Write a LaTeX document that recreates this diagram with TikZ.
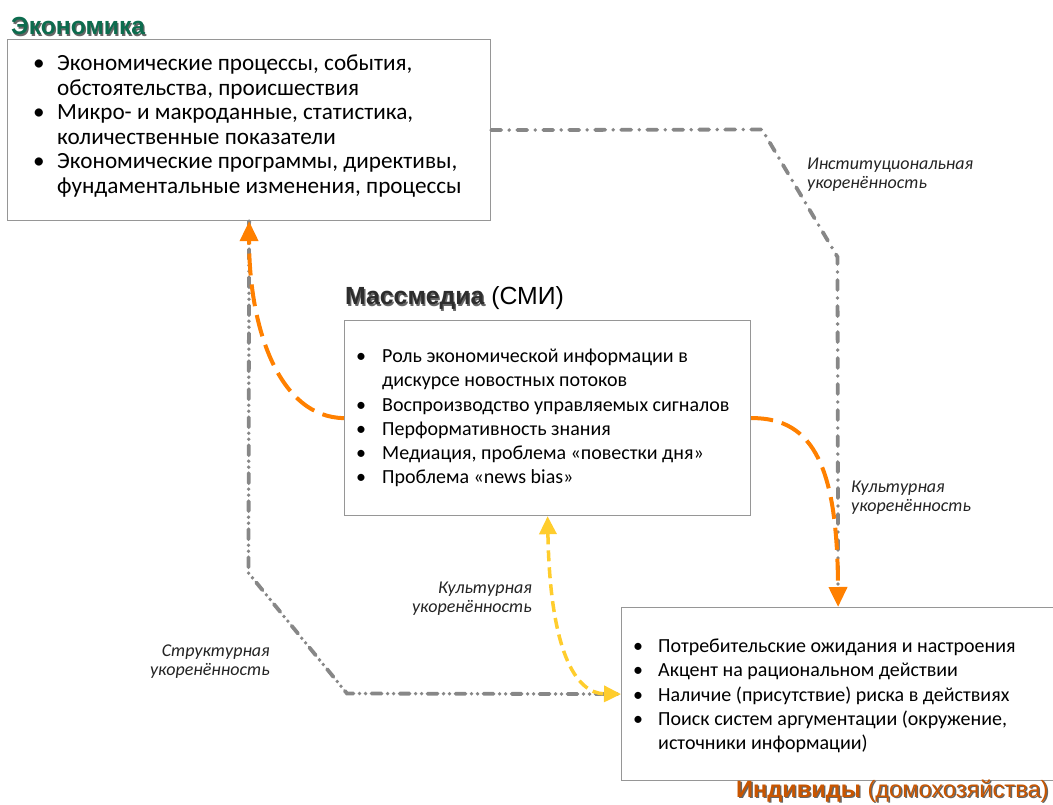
\documentclass[tikz,border=0pt]{standalone}
\usepackage{fontspec}
\setmainfont{Carlito}
\newfontfamily\arialf{Liberation Sans}
\usetikzlibrary{arrows.meta}
\definecolor{econgreen}{RGB}{12,108,78}
\definecolor{mediagray}{RGB}{45,45,45}
\definecolor{indivbrown}{RGB}{200,85,0}
\definecolor{arrorange}{RGB}{255,128,0}
\definecolor{arryellow}{RGB}{255,205,45}
\definecolor{linegray}{RGB}{135,135,135}
\definecolor{boxgray}{RGB}{150,150,150}
\definecolor{labelgray}{RGB}{35,35,35}
\newcommand\shadowed[2]{\rlap{\hspace{1.3pt}\raisebox{-1.3pt}{\textcolor{black!60}{#2}}}\textcolor{#1}{#2}}
\newcommand\bul[1]{\leavevmode\llap{\makebox[#1pt][l]{\textbullet}}}
\begin{document}
\begin{tikzpicture}[x=1pt,y=1pt,
  box/.style={draw=boxgray, line width=1.2pt, fill=white, inner sep=0, anchor=north west},
  txt/.style={anchor=base west, inner sep=0},
  lbl/.style={inner sep=0, text=labelgray},
  title/.style={anchor=base west, inner sep=0},
  instline/.style={draw=linegray, line width=3.8pt, line cap=round, dash pattern=on 10pt off 8pt on 0pt off 8pt},
  structline/.style={draw=linegray, line width=3.8pt, line cap=round, dash pattern=on 10pt off 6pt on 0pt off 6pt on 0pt off 6pt},
  orangearr/.style={draw=arrorange, line width=4pt, dash pattern=on 22pt off 9pt, -{Triangle[length=20pt,width=18pt]}},
  yellowarr/.style={draw=arryellow, line width=3.5pt, dash pattern=on 11pt off 6pt, {Triangle[length=18pt,width=17pt]}-{Triangle[length=17pt,width=16pt]}}
]
\useasboundingbox (0,0) rectangle (1053,-805);

% boxes
\node[box, minimum width=483, minimum height=181] (econ) at (7,-39) {};
\node[box, minimum width=406, minimum height=195] (media) at (344,-320) {};
\node[box, minimum width=433, minimum height=173] (indiv) at (621,-607) {};

% titles
\node[title, font=\arialf\fontsize{24.7}{28}\selectfont] (econtitle) at (11,-35) {\bfseries\shadowed{econgreen}{Экономика}};
\node[title, font=\arialf\fontsize{24.8}{28}\selectfont] (mediatitle) at (345,-305) {\bfseries\shadowed{mediagray}{Массмедиа}\mdseries\ \textcolor{black}{(СМИ)}};
\node[title, font=\arialf\fontsize{23.6}{28}\selectfont] (indivtitle) at (736,-797) {\bfseries\shadowed{indivbrown}{Индивиды}\mdseries\ \shadowed{indivbrown}{(домохозяйства)}};

% box texts
\node[txt] (econtext) at (57,-71) {\parbox[t]{480pt}{\fontsize{23.2}{24.5}\selectfont
\bul{24}Экономические процессы, события,\\
обстоятельства, происшествия\\
\bul{24}Микро- и макроданные, статистика,\\
количественные показатели\\
\bul{24}Экономические программы, директивы,\\
фундаментальные изменения, процессы}};

\node[txt] (mediatext) at (382,-362.5) {\parbox[t]{400pt}{\fontsize{20}{24.3}\selectfont
\bul{26}Роль экономической информации в\\
дискурсе новостных потоков\\
\bul{26}Воспроизводство управляемых сигналов\\
\bul{26}Перформативность знания\\
\bul{26}Медиация, проблема «повестки дня»\\
\bul{26}Проблема «news bias»}};

\node[txt] (indivtext) at (658,-652.3) {\parbox[t]{400pt}{\fontsize{20}{24.4}\selectfont
\bul{25}Потребительские ожидания и настроения\\
\bul{25}Акцент на рациональном действии\\
\bul{25}Наличие (присутствие) риска в действиях\\
\bul{25}Поиск систем аргументации (окружение,\\
источники информации)}};

% coordinates
\coordinate (i1) at (762,-129.5);
\coordinate (i2) at (837.5,-257);
\coordinate (s1) at (248.5,-573);
\coordinate (s2) at (347,-693.5);

% gray connectors
\draw[instline] (econ.east) -- (i1) -- (i2) -- (indiv.north);
\draw[structline] (econ.south) -- (s1) -- (s2) -- (indiv.west);

% orange and yellow connectors
\draw[orangearr] (media.west) .. controls (280,-417.5) and (249,-330) .. (econ.south);
\draw[orangearr] (media.east) .. controls (815,-417.5) and (837.5,-470) .. (indiv.north);
\draw[yellowarr] (media.south) .. controls (550,-650) and (575,-693.5) .. (indiv.west);

% labels
\node[lbl, anchor=base west] (instlabel) at (807,-169.3) {\parbox[t]{200pt}{\fontsize{18}{19}\selectfont\itshape Институциональная\\укоренённость}};
\node[lbl, anchor=base west] (cultlabelR) at (851,-492.3) {\parbox[t]{200pt}{\fontsize{18}{19}\selectfont\itshape Культурная\\укоренённость}};
\node[lbl, anchor=base east] (cultlabelL) at (532,-593.3) {\parbox[t]{200pt}{\raggedleft\fontsize{18}{19}\selectfont\itshape Культурная\\укоренённость}};
\node[lbl, anchor=base east] (structlabel) at (270,-656.7) {\parbox[t]{200pt}{\raggedleft\fontsize{18}{19}\selectfont\itshape Структурная\\укоренённость}};
\end{tikzpicture}
\end{document}
